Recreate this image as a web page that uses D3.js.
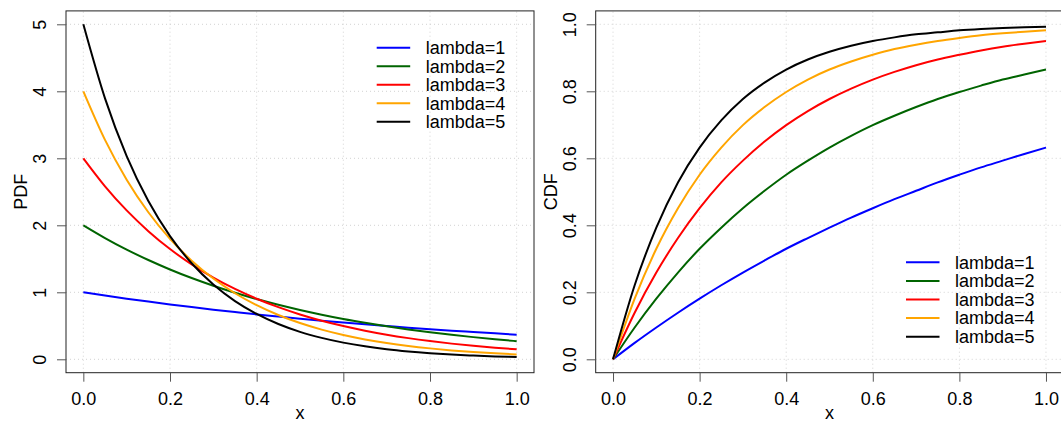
<!DOCTYPE html>
<html>
<head>
<meta charset="utf-8">
<script src="https://cdn.jsdelivr.net/npm/d3@7"></script>
<style>
  html, body { margin: 0; padding: 0; background: #fff; }
  svg { display: block; }
  text { font-family: "Liberation Sans", Arial, Helvetica, sans-serif; fill: #000; }
</style>
</head>
<body>
<svg id="chart" width="1061" height="423"></svg>
<script>
// ---- Data ----
const xValues = [0, 0.05, 0.1, 0.15, 0.2, 0.25, 0.3, 0.35, 0.4, 0.45, 0.5,
                 0.55, 0.6, 0.65, 0.7, 0.75, 0.8, 0.85, 0.9, 0.95, 1.0];
const seriesNames = ["lambda=1", "lambda=2", "lambda=3", "lambda=4", "lambda=5"];
const seriesColors = ["#0000ff", "#006400", "#ff0000", "#ffa500", "#000000"];

const pdf1 = [1, .951, .905, .861, .819, .779, .741, .705, .670, .638, .607, .577, .549, .522, .497, .472, .449, .427, .407, .387, .368];
const pdf2 = [2, 1.810, 1.637, 1.482, 1.341, 1.213, 1.098, .993, .899, .813, .736, .666, .602, .545, .493, .446, .404, .365, .331, .299, .271];
const pdf3 = [3, 2.582, 2.222, 1.913, 1.646, 1.417, 1.220, 1.050, .904, .778, .669, .576, .496, .427, .367, .316, .272, .234, .202, .174, .149];
const pdf4 = [4, 3.275, 2.681, 2.195, 1.797, 1.472, 1.205, .986, .808, .661, .541, .443, .363, .297, .243, .199, .163, .133, .109, .089, .073];
const pdf5 = [5, 3.894, 3.033, 2.362, 1.839, 1.433, 1.116, .869, .677, .527, .410, .320, .249, .194, .151, .118, .092, .071, .056, .043, .034];

const cdf1 = [0, .049, .095, .139, .181, .221, .259, .295, .330, .362, .393, .423, .451, .478, .503, .528, .551, .573, .593, .613, .632];
const cdf2 = [0, .095, .181, .259, .330, .393, .451, .503, .551, .593, .632, .667, .699, .727, .753, .777, .798, .817, .835, .850, .865];
const cdf3 = [0, .139, .259, .362, .451, .528, .593, .650, .699, .741, .777, .808, .835, .858, .878, .895, .909, .922, .933, .942, .950];
const cdf4 = [0, .181, .330, .451, .551, .632, .699, .753, .798, .835, .865, .889, .909, .926, .939, .950, .959, .967, .973, .978, .982];
const cdf5 = [0, .221, .393, .528, .632, .713, .777, .826, .865, .895, .918, .936, .950, .961, .970, .976, .982, .986, .989, .991, .993];

const xTicks = [0, 0.2, 0.4, 0.6, 0.8, 1.0];
const xTickLabels = ["0.0", "0.2", "0.4", "0.6", "0.8", "1.0"];
const pdfTicks = [0, 1, 2, 3, 4, 5];
const pdfTickLabels = ["0", "1", "2", "3", "4", "5"];
const cdfTicks = [0, 0.2, 0.4, 0.6, 0.8, 1.0];
const cdfTickLabels = ["0.0", "0.2", "0.4", "0.6", "0.8", "1.0"];

// ---- Layout ----
const FONT = 18;
const svg = d3.select("#chart");

function panel(cfg) {
  const g = svg.append("g");
  const x = d3.scaleLinear().domain([-0.04, 1.04]).range([cfg.left, cfg.right]);
  const y = d3.scaleLinear().domain(cfg.yDomain).range([372.7, 10.9]);

  // grid
  g.append("g").selectAll("line").data(cfg.xTicks).join("line")
    .attr("x1", d => x(d)).attr("x2", d => x(d))
    .attr("y1", y.range()[0]).attr("y2", y.range()[1])
    .attr("stroke", "#d3d3d3").attr("stroke-width", 1).attr("stroke-dasharray", "1,3");
  g.append("g").selectAll("line").data(cfg.yTicks).join("line")
    .attr("x1", cfg.left).attr("x2", cfg.right)
    .attr("y1", d => y(d)).attr("y2", d => y(d))
    .attr("stroke", "#d3d3d3").attr("stroke-width", 1).attr("stroke-dasharray", "1,3");

  // curves
  const line = d3.line().x((d, i) => x(xValues[i])).y(d => y(d)).curve(d3.curveMonotoneX);
  cfg.series.forEach((s, i) => {
    g.append("path").datum(s).attr("d", line)
      .attr("fill", "none").attr("stroke", seriesColors[i]).attr("stroke-width", 2);
  });

  // box
  g.append("rect")
    .attr("x", cfg.left).attr("y", 10.9)
    .attr("width", cfg.right - cfg.left).attr("height", 372.7 - 10.9)
    .attr("fill", "none").attr("stroke", "#222").attr("stroke-width", 1);

  // x axis
  const xAxis = d3.axisBottom(x).tickValues(cfg.xTicks)
    .tickFormat((d, i) => cfg.xTickLabels[i]).tickSize(9).tickSizeOuter(0).tickPadding(8);
  const xa = g.append("g").attr("transform", "translate(0,372.7)").call(xAxis);
  xa.select(".domain").remove();
  xa.selectAll(".tick line").attr("stroke", "#555");
  xa.selectAll(".tick text").attr("font-size", FONT).attr("font-family", null).attr("fill", "#000")
    .attr("y", 26).attr("dy", "0.35em");

  // y axis
  const yAxis = d3.axisLeft(y).tickValues(cfg.yTicks)
    .tickFormat((d, i) => cfg.yTickLabels[i]).tickSize(9).tickSizeOuter(0);
  const ya = g.append("g").attr("transform", `translate(${cfg.left},0)`).call(yAxis);
  ya.select(".domain").remove();
  ya.selectAll(".tick line").attr("stroke", "#555");
  ya.selectAll(".tick text")
    .attr("font-size", FONT).attr("font-family", null).attr("fill", "#000")
    .attr("x", null).attr("dy", "0.35em")
    .attr("text-anchor", "middle")
    .attr("transform", "translate(-26,0) rotate(-90)");

  // axis titles
  g.append("text").attr("x", (x(0) + x(1)) / 2).attr("y", 412.5).attr("dy", "0.35em")
    .attr("text-anchor", "middle").attr("font-size", FONT).text("x");
  const cy = (372.7 + 10.9) / 2;
  g.append("text")
    .attr("transform", `translate(${cfg.left - 45.3},${cy}) rotate(-90)`)
    .attr("dy", "0.35em").attr("text-anchor", "middle").attr("font-size", FONT)
    .text(cfg.yLabel);

  // legend
  const lg = g.append("g");
  seriesNames.forEach((name, i) => {
    const yy = cfg.legY + i * cfg.legStep;
    lg.append("line").attr("x1", cfg.legX).attr("x2", cfg.legX + 33.5)
      .attr("y1", yy).attr("y2", yy)
      .attr("stroke", seriesColors[i]).attr("stroke-width", 2);
    lg.append("text").attr("x", cfg.legX + 49).attr("y", yy).attr("dy", "0.35em")
      .attr("font-size", FONT).text(name);
  });
}

panel({
  left: 66.0, right: 534.0,
  yDomain: [-0.2, 5.2],
  xTicks, xTickLabels,
  yTicks: pdfTicks, yTickLabels: pdfTickLabels,
  series: [pdf1, pdf2, pdf3, pdf4, pdf5],
  yLabel: "PDF",
  legX: 376.7, legY: 47.7, legStep: 18.5
});

panel({
  left: 595.7, right: 1063.3,
  yDomain: [-0.04, 1.04],
  xTicks, xTickLabels,
  yTicks: cdfTicks, yTickLabels: cdfTickLabels,
  series: [cdf1, cdf2, cdf3, cdf4, cdf5],
  yLabel: "CDF",
  legX: 906, legY: 262.3, legStep: 18.6
});
</script>
</body>
</html>
